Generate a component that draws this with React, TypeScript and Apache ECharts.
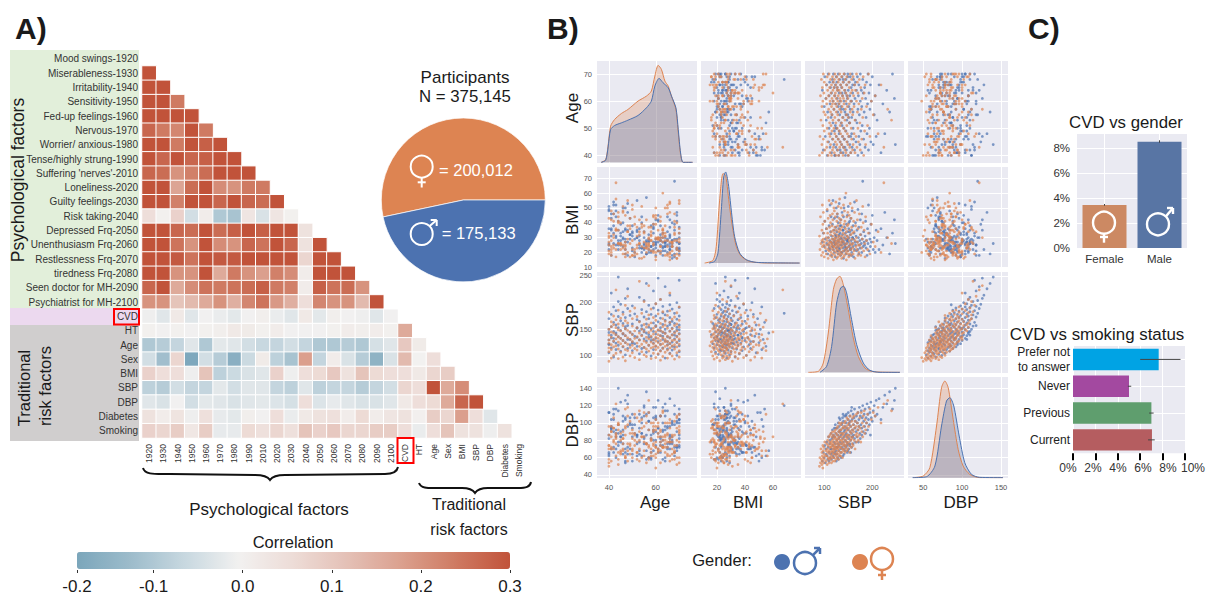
import React, { useEffect, useRef } from "react";
import * as echarts from "echarts";

// ---------- Panel A: correlation matrix ----------
const rowLabels = ["Mood swings-1920","Miserableness-1930","Irritability-1940","Sensitivity-1950","Fed-up feelings-1960","Nervous-1970","Worrier/ anxious-1980","Tense/highly strung-1990","Suffering 'nerves'-2010","Loneliness-2020","Guilty feelings-2030","Risk taking-2040","Depressed Frq-2050","Unenthusiasm Frq-2060","Restlessness Frq-2070","tiredness Frq-2080","Seen doctor for MH-2090","Psychiatrist for MH-2100","CVD","HT","Age","Sex","BMI","SBP","DBP","Diabetes","Smoking"];
const colLabels = ["1920","1930","1940","1950","1960","1970","1980","1990","2010","2020","2030","2040","2050","2060","2070","2080","2090","2100","CVD","HT","Age","Sex","BMI","SBP","DBP","Diabetes","Smoking"];
const correlationRows: number[][] = [
  [],
  [.3],
  [.3,.3],
  [.3,.3,.24],
  [.3,.3,.3,.3],
  [.27,.24,.22,.3,.24],
  [.3,.3,.24,.3,.28,.3],
  [.3,.27,.3,.27,.28,.3,.3],
  [.27,.26,.2,.23,.26,.3,.3,.3],
  [.3,.3,.17,.26,.3,.21,.2,.24,.24],
  [.3,.3,.23,.3,.3,.27,.3,.27,.26,.3],
  [.05,0,.08,-.05,.01,-.1,-.11,.03,-.04,.03,0],
  [.3,.3,.27,.26,.3,.26,.28,.3,.28,.3,.3,.04],
  [.3,.3,.25,.2,.3,.21,.2,.27,.25,.3,.27,.04,.3],
  [.3,.3,.29,.25,.3,.29,.29,.3,.3,.3,.3,.07,.3,.3],
  [.3,.3,.2,.2,.3,.16,.24,.2,.18,.23,.21,.01,.3,.3,.3],
  [.27,.3,.16,.21,.25,.24,.25,.26,.28,.24,.23,.01,.28,.25,.26,.2],
  [.2,.2,.11,.13,.16,.2,.15,.22,.25,.19,.15,.05,.22,.2,.2,.13,.3],
  [-.01,-.03,.02,-.03,-.005,-.015,-.025,-.005,.005,-.015,-.03,.02,-.025,.005,-.005,-.01,-.03,-.005],
  [0,-.005,0,-.005,0,.005,.02,.015,0,.01,-.005,-.005,-.005,0,.01,.005,.01,0,.16],
  [-.1,-.09,-.07,-.03,-.1,-.025,-.03,-.05,-.065,-.07,-.05,-.07,-.1,-.1,-.09,-.1,-.045,-.03,.1,.015],
  [-.05,-.12,.07,-.18,-.05,-.09,-.16,-.06,.015,-.08,-.11,.18,-.07,.01,-.04,-.09,-.15,-.04,.13,-.003,.05],
  [.08,.05,.05,-.01,.11,-.08,-.06,-.04,-.03,.08,-.01,.05,.06,.1,.04,.11,.06,.05,.05,.02,.07,.09],
  [-.08,-.09,-.05,-.07,-.07,-.025,-.05,-.03,-.03,-.07,-.08,-.03,-.08,-.07,-.07,-.09,-.07,-.05,.07,.05,.3,.16,.21],
  [-.03,-.04,-.005,-.05,-.025,-.03,-.04,-.03,-.025,-.035,-.045,.05,-.035,-.02,-.03,-.04,-.04,-.03,.02,.05,.06,.16,.27,.3],
  [.04,.01,.035,-.01,.045,-.02,-.025,.005,-.005,.05,-.015,.02,.04,.045,.01,.06,.01,.03,.04,.002,.09,.07,.18,.05,-.03],
  [.08,.07,.09,.025,.09,-.02,-.02,.06,.045,.07,.045,.11,.08,.1,.07,.07,.09,.09,.05,-.015,.05,.11,.04,.04,-.01,.04],
];
const colorbarTicks = [-0.186, -0.1, 0, 0.1, 0.2, 0.3];

// ---------- Participants pie ----------
const participantNames = ["Female", "Male"];
const participantCounts = [200012, 175133];

// ---------- Panel B: pair plot, hand-read participants ----------
const femaleAge = [
  40,47,62,53,68,44,58,65,41,51,60,70,46,56,63,49,67,42,55,61,
  66,43,59,50,69,45,64,54,40,57,62,48,70,52,65,41,60,47,68,56,
  44,63,51,58,66,40,55,61,49,69,42,59,64,46,53,67,43,60,50,65,
  57,68,41,62,48,54,70,45,59,63,52,66,40,56,61,47,69,44,58,64,
  50,65,42,60,55,67,46,62,40,53,68,49,59,64,43,57,70,51,61,45,
  63,48,66,41,56,60,52,69,44,58,65,47,62,54,40,67,50,61,43,59,
  70,46,64,53,42,68,57,49,63,41,60,55,66,45,51,69,48,62,58,44,
  61,40,54,67,47,59,65,43,52,70,56,63,41,60,50,68,46,64,57,42,
  55,69,44,62,48,58,66,41,53,64,47,60,70,43,56,67,50,63,45,59,
  68,52,42,65,57,46,61,54,69,40,63,49,66,44,58,51,70,47,60,55,
  62,48,66,43,57,53];
const femaleBmi = [
  31,22,44,26,18,35,28,52,24,39,20,29,47,25,33,17,27,41,23,30,
  19,36,25,49,28,22,33,16,43,26,30,55,21,37,24,18,45,27,32,23,
  40,27,20,34,53,25,17,29,38,22,46,26,31,19,42,24,35,15,28,50,
  24,33,48,21,29,37,18,26,44,30,23,54,27,20,35,25,16,41,32,28,
  22,46,30,17,38,26,51,24,19,34,28,43,21,31,56,25,36,18,29,40,
  35,20,27,42,23,50,31,16,26,37,19,45,28,24,33,21,52,30,17,39,
  27,48,18,32,25,41,22,36,60,20,29,34,15,26,44,23,38,19,31,47,
  21,30,39,24,17,45,28,35,19,53,26,32,22,43,18,37,25,50,29,23,
  33,19,26,41,34,21,47,28,16,38,24,30,55,22,42,27,18,36,25,20,
  46,25,32,18,37,23,29,51,40,21,35,26,17,44,28,22,33,19,39,27,
  24,34,20,67,30,26];
const femaleSbp = [
  90,91,92,93,94,95,95,96,96,97,97,98,98,99,99,100,100,101,102,104,
  104,105,105,106,106,107,107,108,108,109,109,110,110,111,111,112,112,112,113,113,
  113,114,114,115,115,115,116,116,116,117,117,117,118,118,118,119,119,119,120,120,
  120,121,121,121,122,122,122,123,123,123,124,124,124,125,125,125,126,126,126,127,
  127,127,128,128,128,129,129,129,130,130,130,131,131,131,132,132,132,133,133,133,
  134,134,134,135,135,135,136,136,136,137,137,138,138,138,139,139,140,140,140,141,
  141,142,142,143,143,143,144,144,145,145,145,146,146,147,147,147,148,148,148,149,
  149,150,150,151,151,152,152,153,153,154,154,155,155,156,156,157,157,158,158,159,
  159,160,160,161,162,162,163,164,164,165,166,167,167,168,169,169,170,170,171,172,
  173,174,175,176,177,178,179,180,181,182,183,184,185,186,188,190,192,195,198,202,
  206,212,218,224,232,240];
const femaleDbp = [
  50,60,54,70,58,52,66,62,56,74,48,60,68,54,72,64,58,78,62,68,
  56,76,62,70,52,66,80,60,74,58,84,68,54,78,64,72,60,86,66,76,
  58,72,88,62,78,54,68,84,74,60,80,90,66,76,56,70,86,64,82,72,
  60,74,90,68,56,84,78,64,92,72,58,82,70,76,88,62,94,66,80,72,
  60,86,70,96,78,64,82,74,58,90,68,76,100,84,62,72,92,80,66,88,
  72,98,62,84,76,92,66,80,100,70,88,60,78,94,74,86,68,96,82,76,
  88,70,100,80,94,66,74,102,84,90,72,96,78,68,86,106,76,92,82,98,
  70,86,104,78,94,74,100,84,66,90,108,80,96,72,88,102,82,76,92,106,
  84,74,98,90,108,80,94,70,102,86,96,78,110,88,100,84,92,112,80,96,
  86,106,94,78,112,90,100,84,108,96,114,88,104,92,100,110,96,116,104,112,
  108,118,100,122,126,114];
const maleAge = [
  64,42,58,69,47,61,53,66,40,56,70,45,62,50,67,43,59,65,48,54,
  41,63,55,68,46,60,52,70,44,57,65,49,62,40,66,51,59,43,69,47,
  67,50,61,42,56,64,46,70,53,59,40,63,48,68,55,45,60,66,41,52,
  58,44,65,51,69,47,62,54,41,67,57,43,60,50,70,46,64,56,40,63,
  49,68,59,42,66,53,61,45,70,55,64,40,58,47,67,52,62,44,69,57,
  60,41,65,48,54,70,43,63,56,50,68,46,59,66,42,61,53,67,45,64,
  52,69,57,40,62,47,66,55,44,60,70,49,64,41,58,51,68,63,46,56,
  65,43,61,54,67,48,59,70,42,63,50,57,66,45,60,69,44,55,62,47,
  53,66,41,59,48,64,56,70,44,61,
  67,50,58,42,63,46,55,69,52,60,40,65,49,57,68,43,62,54,47,66];
const maleBmi = [
  27,33,24,41,29,21,36,26,48,19,30,25,38,23,28,52,22,34,27,44,
  31,18,26,39,24,29,55,22,35,27,20,43,28,25,32,17,37,30,23,50,
  26,34,21,46,28,24,40,19,31,27,36,23,53,29,22,33,25,42,18,30,
  38,25,29,20,47,27,32,23,35,16,28,44,26,21,37,30,24,57,22,33,
  29,19,39,26,31,23,45,28,21,34,27,51,24,36,18,30,25,41,22,32,
  23,43,28,35,20,26,48,30,24,38,17,29,33,22,54,27,25,40,31,21,
  35,27,22,49,30,19,37,25,28,42,23,32,26,46,20,29,68,24,34,27,
  25,31,41,23,28,18,36,26,52,21,33,29,24,39,27,45,22,30,20,35,
  28,22,36,25,47,30,19,33,26,42,
  24,31,21,38,27,50,23,29,34,18,26,44,32,20,35,25,28,40,22,30];
const maleSbp = [
  96,98,100,101,102,103,104,105,106,107,108,109,110,110,111,112,112,113,114,114,
  115,115,116,117,117,118,118,119,120,120,121,121,122,122,123,123,124,124,125,125,
  126,126,127,127,128,128,129,129,130,130,130,131,131,132,132,133,133,134,134,135,
  135,136,136,137,137,138,138,139,139,140,140,140,141,141,142,142,143,143,144,144,
  145,145,146,146,147,147,148,148,149,149,150,150,151,151,152,152,153,153,154,154,
  155,155,156,157,157,158,158,159,160,160,161,161,162,163,163,164,165,165,166,167,
  168,169,170,170,171,172,172,173,174,175,175,176,177,178,178,179,180,181,182,183,
  184,185,186,187,188,189,190,191,192,193,194,195,196,197,198,200,202,204,206,208,
  210,214,218,222,226,230,236,242,248,246,
  118,124,129,133,137,141,145,149,153,157,122,127,131,135,139,143,147,151,155,159];
const maleDbp = [
  56,66,60,74,54,70,64,78,62,58,72,84,66,56,76,60,80,70,64,88,
  70,58,82,66,92,74,62,86,78,60,94,70,84,64,76,98,68,88,72,56,
  80,64,94,72,86,60,76,100,68,90,82,74,96,62,84,78,104,70,92,86,
  66,98,76,88,72,106,82,62,94,78,102,70,90,84,74,108,96,68,86,80,
  100,72,88,110,78,94,66,84,104,76,92,112,82,70,98,86,108,74,90,102,
  80,96,114,72,88,104,84,92,76,110,98,86,106,82,116,94,78,102,90,108,
  84,100,92,112,78,104,96,118,88,108,82,98,114,94,86,106,120,90,102,110,
  96,116,88,106,100,122,92,110,104,118,98,112,86,124,106,102,114,120,108,126,
  110,128,104,118,132,122,136,116,140,126,
  84,94,58,90,100,64,108,68,76,118,66,72,106,60,110,92,74,100,66,84];

// density curves read from the diagonal: [variable value, curve height]
const kdeAgeFemale = [[36.7,0],[38.6,8],[39.6,48],[40.7,108],[42.4,128],[45.3,146],[48.1,158],[52.4,183],[56,198],[58.1,213],[59.6,258],[61,290],[62.4,278],[63.9,243],[65.3,228],[66.7,198],[68.6,158],[69.6,88],[70.6,23],[71.7,0],[75.7,0]];
const kdeAgeMale = [[36.7,0],[38.6,6],[39.6,43],[40.7,98],[42.4,110],[45.3,118],[48.1,126],[52.4,140],[56,163],[58.1,183],[59.6,228],[61.4,251],[63.1,238],[65.3,223],[66.7,198],[68.6,163],[69.6,98],[70.6,28],[71.7,0],[75.7,0]];
const kdeBmiFemale = [[11.2,0],[17.1,8],[19.5,50],[21.9,190],[24.3,270],[26.2,265],[29,170],[31.4,100],[33.8,50],[37.4,20],[43.3,5],[55.2,0],[79,0]];
const kdeBmiMale = [[14.3,0],[18.3,5],[20.7,30],[23.1,160],[24.8,260],[26.2,275],[28.1,240],[30.2,160],[32.6,80],[36.2,30],[41,10],[48.1,2],[79,0]];
const kdeSbpFemale = [[66.7,0],[87.5,3],[97.9,28],[108.3,118],[118.8,248],[125.7,280],[132.6,288],[139.6,263],[150,188],[160.4,103],[170.8,48],[184.7,13],[202,2],[257.6,0]];
const kdeSbpMale = [[91,0],[104.9,18],[115.3,78],[125.7,208],[134,253],[140.3,258],[146.5,238],[156.9,158],[167.4,83],[181.3,28],[195.1,6],[216,0],[257.6,0]];
const kdeDbpFemale = [[37.2,0],[50,5],[58.5,30],[67.1,155],[73.5,270],[77.8,290],[82.1,270],[88.5,175],[94.9,85],[101.3,35],[109.8,10],[122.6,0],[152.6,0]];
const kdeDbpMale = [[36.3,0],[54.3,3],[65,35],[73.5,155],[79.9,230],[84.2,240],[89.3,215],[96.2,125],[103.4,45],[112,10],[122.6,1],[152.6,0]];

const pairNames = ["Age", "BMI", "SBP", "DBP"];
const colTicks = [[40,60],[20,40,60],[100,200],[50,100,150]];
const rowTicks = [[40,50,60,70],[10,20,30,40,50,60,70],[100,150,200,250],[40,60,80,100,120,140]];

// ---------- Panel C ----------
const genderNames = ["Female", "Male"];
const genderCvd = [3.44, 8.5];
const genderErr = [[3.38, 3.52], [8.42, 8.62]];
const smokingNames = ["Prefer not\nto answer", "Never", "Previous", "Current"];
const smokingCvd = [7.65, 5.0, 7.0, 7.05];
const smokingErr = [[6.0, 9.6], [4.9, 5.2], [6.8, 7.2], [6.7, 7.3]];
const smokingTickLabels = ["0%", "2%", "4%", "6%", "8%", "10%"];

// ---------- Layout and style ----------
const FONT = '"Liberation Sans", Arial, sans-serif';
const BLUE = "#4C72B0";
const ORANGE = "#DD8452";
const PANEL = "#EAEAF2";
const colX = [[597,697],[701,801],[805,904],[908,1008]];
const rowY = [[61,163],[167,268],[272,373],[377,478]];
const colRange = [[34.9,77.6],[8.6,80],[59.8,266],[30.4,159]];
const rowRange = [[37.2,74.8],[9.5,77.6],[68,257.5],[36.5,153]];
const kdeFloor = [-2,-15,-2,-1];
const kdeTop = [303,290,301,302];
const smokingLabelX = [1068,1093,1118,1143,1168,1193];

echarts.graphic.registerShape("braceA", echarts.graphic.extendPath(
  "M143,468 C145,475 155,474 170,474 L255,475 C263,475 268,477 270,480 C272,477 277,475 285,475 L385,474 C392,474 397,472 398,467", {}));
echarts.graphic.registerShape("braceB", echarts.graphic.extendPath(
  "M419,483 C421,489 429,488 440,488 L462,488 C469,488 473,490 475,493 C477,490 481,488 488,488 L518,488 C526,488 530,487 531,482", {}));

const txt = (text: string, x: number, y: number, size: number, opt: any = {}) => ({
  type: "text", x, y, z: 100, rotation: opt.rotation || 0,
  style: {
    text, fill: opt.fill || "#1a1a1a",
    font: `${opt.weight || "normal"} ${size}px ${FONT}`,
    textAlign: opt.align || "center", textVerticalAlign: "middle",
  },
});
const ln = (x1: number, y1: number, x2: number, y2: number, stroke: string, lineWidth: number) => ({
  type: "line", z: 100, shape: { x1, y1, x2, y2 }, style: { stroke, lineWidth },
});
const ring = (cx: number, cy: number, r: number, stroke: string, lineWidth: number) => ({
  type: "circle", z: 100, shape: { cx, cy, r }, style: { fill: "none", stroke, lineWidth },
});
const dot = (cx: number, cy: number, r: number, fill: string) => ({
  type: "circle", z: 100, shape: { cx, cy, r }, style: { fill },
});
const box = (x: number, y: number, width: number, height: number, style: any, z = -1) => ({
  type: "rect", z, shape: { x, y, width, height }, style,
});
const femaleIcon = (cx: number, cy: number, r: number, bottom: number, cross: number, c: string, lw: number) => [
  ring(cx, cy, r, c, lw),
  ln(cx, cy + r, cx, bottom, c, lw),
  ln(cx - 4, cross, cx + 4, cross, c, lw),
];
const maleIcon = (cx: number, cy: number, r: number, tipX: number, tipY: number, c: string, lw: number) => [
  ring(cx, cy, r, c, lw),
  ln(cx + r * 0.7, cy - r * 0.7, tipX, tipY, c, lw),
  ln(tipX - 6, tipY, tipX, tipY, c, lw),
  ln(tipX, tipY, tipX, tipY + 6, c, lw),
];

function buildOption() {
  const grid: any[] = [];
  const xAxis: any[] = [];
  const yAxis: any[] = [];
  const series: any[] = [];

  // heatmap (grid 0)
  grid.push({ left: 142, top: 51.7, width: 384, height: 386.3 });
  xAxis.push({
    type: "category", gridIndex: 0, data: colLabels, position: "bottom",
    axisLine: { show: false }, splitLine: { show: false },
    axisTick: { length: 3, lineStyle: { color: "#333" }, alignWithLabel: true },
    axisLabel: { interval: 0, rotate: 90, fontSize: 8.5, color: "#333", margin: 6 },
  });
  yAxis.push({
    type: "category", gridIndex: 0, data: rowLabels, inverse: true,
    axisLine: { show: false }, splitLine: { show: false },
    axisTick: { length: 3, lineStyle: { color: "#333" }, alignWithLabel: true },
    axisLabel: { interval: 0, fontSize: 10, color: "#333", margin: 4 },
  });
  const cells: number[][] = [];
  correlationRows.forEach((vals, r) => vals.forEach((v, c) => cells.push([c, r, v])));
  series.push({
    type: "heatmap", xAxisIndex: 0, yAxisIndex: 0, data: cells, progressive: 0,
    itemStyle: { borderColor: "#fff", borderWidth: 1 }, emphasis: { disabled: true },
  });

  // colour-bar axis (grid 1)
  grid.push({ left: 77, top: 569, width: 433, height: 1 });
  xAxis.push({
    type: "value", gridIndex: 1, min: -0.186, max: 0.3, position: "bottom",
    axisLine: { show: false }, splitLine: { show: false },
    axisTick: { length: 3, lineStyle: { color: "#333" }, customValues: colorbarTicks },
    axisLabel: {
      customValues: colorbarTicks, fontSize: 17, color: "#1a1a1a", margin: 8,
      showMinLabel: true, showMaxLabel: true,
      formatter: (v: number) => (v < -0.15 ? "-0.2" : v.toFixed(1)),
    },
  });
  yAxis.push({ type: "value", gridIndex: 1, show: false });
  series.push({ type: "scatter", xAxisIndex: 1, yAxisIndex: 1, data: [] });

  // pair plot
  const females = [femaleAge, femaleBmi, femaleSbp, femaleDbp];
  const males = [maleAge, maleBmi, maleSbp, maleDbp];
  const kdes = [
    [kdeAgeFemale, kdeAgeMale], [kdeBmiFemale, kdeBmiMale],
    [kdeSbpFemale, kdeSbpMale], [kdeDbpFemale, kdeDbpMale],
  ];
  const whiteLine = { show: true, lineStyle: { color: "#fff", width: 1 } };
  for (let r = 0; r < 4; r++) {
    for (let c = 0; c < 4; c++) {
      const gi = grid.length;
      grid.push({
        left: colX[c][0], width: colX[c][1] - colX[c][0],
        top: rowY[r][0], height: rowY[r][1] - rowY[r][0],
        show: true, backgroundColor: PANEL, borderWidth: 0,
      });
      const xi = xAxis.length;
      xAxis.push({
        type: "value", gridIndex: gi, min: colRange[c][0], max: colRange[c][1],
        axisLine: { show: false }, splitLine: whiteLine,
        axisTick: { show: false, customValues: colTicks[c] },
        axisLabel: r === 3
          ? { show: true, customValues: colTicks[c], fontSize: 7.5, color: "#555", margin: 5 }
          : { show: false, customValues: colTicks[c] },
      });
      const yi = yAxis.length;
      yAxis.push({
        type: "value", gridIndex: gi, min: rowRange[r][0], max: rowRange[r][1],
        axisLine: { show: false }, splitLine: whiteLine,
        axisTick: { show: false, customValues: rowTicks[r] },
        axisLabel: c === 0
          ? { show: true, customValues: rowTicks[r], fontSize: 7.5, color: "#555", margin: 5 }
          : { show: false, customValues: rowTicks[r] },
      });
      if (r === c) {
        const di = yAxis.length;
        yAxis.push({ type: "value", gridIndex: gi, show: false, position: "right", min: kdeFloor[r], max: kdeTop[r], splitLine: { show: false } });
        [[kdes[r][0], ORANGE], [kdes[r][1], BLUE]].forEach(([d, col]: any) => {
          series.push({
            type: "line", xAxisIndex: xi, yAxisIndex: di, data: d, showSymbol: false, smooth: 0.25,
            lineStyle: { color: col, width: 1 }, itemStyle: { color: col },
            areaStyle: { color: col, opacity: 0.28 },
          });
        });
      } else {
        [[males, BLUE], [females, ORANGE]].forEach(([set, col]: any) => {
          series.push({
            type: "scatter", xAxisIndex: xi, yAxisIndex: yi,
            data: set[c].map((v: number, i: number) => [v, set[r][i]]),
            symbolSize: 2.8, itemStyle: { color: col, opacity: 0.7 }, large: false,
            emphasis: { disabled: true },
          });
        });
      }
    }
  }

  // CVD vs gender
  const gGrid = grid.length;
  grid.push({ left: 1077, top: 134, width: 110, height: 114, show: true, backgroundColor: PANEL, borderWidth: 0 });
  const gx = xAxis.length;
  xAxis.push({
    type: "category", gridIndex: gGrid, data: genderNames,
    axisLine: { show: false }, axisTick: { show: false },
    splitLine: { show: true, alignWithLabel: true, lineStyle: { color: "#fff", width: 1 } },
    axisLabel: { fontSize: 11.5, color: "#333", margin: 5 },
  });
  const gy = yAxis.length;
  yAxis.push({
    type: "value", gridIndex: gGrid, min: 0, max: 9.12, interval: 2,
    axisLine: { show: false }, axisTick: { show: false },
    splitLine: { show: true, showMaxLine: false, lineStyle: { color: "#fff", width: 1 } },
    axisLabel: { showMaxLabel: false, fontSize: 11.5, color: "#333", margin: 7, formatter: "{value}%" },
  });
  const genderColors = ["#CC8963", "#5875A4"];
  series.push({
    type: "bar", xAxisIndex: gx, yAxisIndex: gy, barCategoryGap: "20%",
    data: genderCvd.map((v, i) => ({ value: v, itemStyle: { color: genderColors[i] } })),
  });
  series.push({
    type: "custom", xAxisIndex: gx, yAxisIndex: gy, z: 5,
    data: genderErr.map((e, i) => [i, e[0], e[1]]),
    encode: { x: 0, y: [1, 2] },
    renderItem: (_: any, api: any) => {
      const a = api.coord([api.value(0), api.value(1)]);
      const b = api.coord([api.value(0), api.value(2)]);
      return { type: "line", shape: { x1: a[0], y1: a[1], x2: b[0], y2: b[1] }, style: { stroke: "#444", lineWidth: 1 } };
    },
  });

  // CVD vs smoking status
  const sGrid = grid.length;
  grid.push({ left: 1073, top: 346, width: 112, height: 107.3, show: true, backgroundColor: PANEL, borderWidth: 0 });
  const sx = xAxis.length;
  xAxis.push({
    type: "value", gridIndex: sGrid, min: 0, max: 10, interval: 2, position: "bottom",
    axisLine: { show: false },
    axisTick: { show: true, length: 7, lineStyle: { color: "#000", width: 2 } },
    splitLine: { show: true, lineStyle: { color: "#fff", width: 1 } },
    axisLabel: { show: false },
  });
  const sy = yAxis.length;
  yAxis.push({
    type: "category", gridIndex: sGrid, data: smokingNames, inverse: true,
    axisLine: { show: false }, axisTick: { show: false },
    splitLine: { show: true, alignWithLabel: true, lineStyle: { color: "#fff", width: 1 } },
    axisLabel: { interval: 0, fontSize: 12, color: "#222", margin: 3, lineHeight: 15 },
  });
  const smokingColors = ["#00A3E4", "#A349A0", "#5F9E6E", "#B55D60"];
  series.push({
    type: "bar", xAxisIndex: sx, yAxisIndex: sy, barCategoryGap: "20%",
    data: smokingCvd.map((v, i) => ({ value: v, itemStyle: { color: smokingColors[i] } })),
  });
  series.push({
    type: "custom", xAxisIndex: sx, yAxisIndex: sy, z: 5,
    data: smokingErr.map((e, i) => [e[0], e[1], i]),
    encode: { x: [0, 1], y: 2 },
    renderItem: (_: any, api: any) => {
      const a = api.coord([api.value(0), api.value(2)]);
      const b = api.coord([api.value(1), api.value(2)]);
      return { type: "line", shape: { x1: a[0], y1: a[1], x2: b[0], y2: b[1] }, style: { stroke: "#444", lineWidth: 1 } };
    },
  });

  // pie
  series.push({
    type: "pie", center: [463.3, 200], radius: 82, startAngle: 0, clockwise: false,
    label: { show: false }, labelLine: { show: false }, emphasis: { disabled: true },
    itemStyle: { borderColor: "#fff", borderWidth: 0.7 },
    data: participantNames.map((name, i) => ({
      name, value: participantCounts[i], itemStyle: { color: i === 0 ? ORANGE : BLUE },
    })),
  });

  const graphic: any[] = [
    box(10, 50, 129, 258, { fill: "#E2EFDA" }),
    box(10, 308, 129, 17, { fill: "#ECD9EF" }),
    box(10, 325, 129, 116, { fill: "#D0CECE" }),
    box(114, 309, 25, 15.5, { fill: "none", stroke: "#FF0000", lineWidth: 2 }, 60),
    box(397.5, 438, 16, 25, { fill: "none", stroke: "#FF0000", lineWidth: 2 }, 60),
    { type: "braceA", z: 50, style: { fill: "none", stroke: "#111", lineWidth: 2 } },
    { type: "braceB", z: 50, style: { fill: "none", stroke: "#111", lineWidth: 2 } },
    txt("A)", 15, 28, 30, { align: "left", weight: "bold" }),
    txt("B)", 547, 28, 30, { align: "left", weight: "bold" }),
    txt("C)", 1028, 28, 30, { align: "left", weight: "bold" }),
    txt("Psychological factors", 18, 180, 17.5, { rotation: Math.PI / 2 }),
    txt("Traditional", 24, 388, 16.5, { rotation: Math.PI / 2 }),
    txt("risk factors", 45, 386, 16.5, { rotation: Math.PI / 2 }),
    txt("Psychological factors", 269, 509, 17),
    txt("Traditional", 469, 504, 16),
    txt("risk factors", 469, 529, 16),
    txt("Correlation", 293, 542, 16.5),
    txt("Participants", 465, 77, 17),
    txt("N = 375,145", 465, 96, 16.8),
    txt("= 200,012", 439, 170, 16.5, { align: "left", fill: "#fff" }),
    txt("= 175,133", 441.7, 233, 16.5, { align: "left", fill: "#fff" }),
    ...femaleIcon(421.7, 166.7, 11, 187.5, 182.3, "#fff", 2),
    ...maleIcon(421.7, 234, 11, 436.7, 220, "#fff", 2),
    txt("Age", 572, 108, 17, { rotation: Math.PI / 2 }),
    txt("BMI", 572, 220, 17, { rotation: Math.PI / 2 }),
    txt("SBP", 572, 320, 17, { rotation: Math.PI / 2 }),
    txt("DBP", 572, 430, 17, { rotation: Math.PI / 2 }),
    ...pairNames.map((n, i) => txt(n, [655, 748, 855, 961][i], 502, 17)),
    txt("Gender:", 722, 560, 16.5),
    dot(782, 562, 8, BLUE),
    ...maleIcon(805, 563, 11, 820, 548, BLUE, 2.5),
    dot(860, 562, 8, ORANGE),
    ...femaleIcon(882, 559, 11, 580, 575, ORANGE, 2.5),
    txt("CVD vs gender", 1126, 122, 16.8),
    txt("CVD vs smoking status", 1097, 334, 16.9),
    ...smokingTickLabels.map((t, i) => txt(t, smokingLabelX[i], 468, 12, { fill: "#333" })),
    ...femaleIcon(1104, 222.7, 11, 242.7, 237, "#fff", 2.4),
    ...maleIcon(1158, 224.3, 11, 1173, 208, "#fff", 2.4),
  ];

  return {
    animation: false,
    backgroundColor: "#fff",
    textStyle: { fontFamily: FONT },
    tooltip: { show: false },
    grid, xAxis, yAxis, series, graphic,
    visualMap: {
      type: "continuous", min: -0.186, max: 0.3, seriesIndex: 0,
      orient: "horizontal", left: 77, top: 552, itemWidth: 17, itemHeight: 433,
      padding: 0, calculable: false, hoverLink: false, showLabel: false, text: ["", ""],
      inRange: { color: ["#7BA6BB", "#9DBCCB", "#C8D8E0", "#F2F1F0", "#EDDCD7", "#E4C0B6", "#DBA08E", "#CF7A62", "#C1533A"] },
    },
  };
}

export default function App() {
  const ref = useRef<HTMLDivElement>(null);
  useEffect(() => {
    document.body.style.margin = "0";
    const chart = echarts.init(ref.current!, undefined, { renderer: "svg" });
    chart.setOption(buildOption() as any);
    return () => chart.dispose();
  }, []);
  return <div ref={ref} style={{ width: 1209, height: 597 }} />;
}
